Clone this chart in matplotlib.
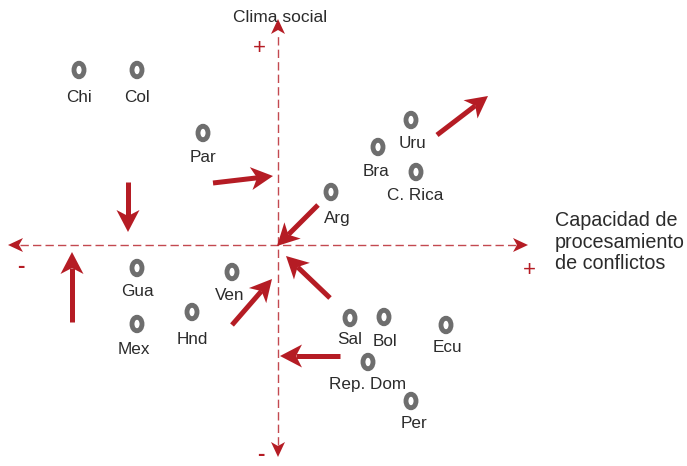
import numpy as np
import matplotlib.pyplot as plt
from matplotlib.patches import Ellipse, Polygon

plt.rcParams['font.family'] = ['Liberation Sans', 'DejaVu Sans']

# country positions (x: capacidad, y: clima social), origin at the axes crossing
countries = ["Chi", "Col", "Par", "Bra", "Uru", "C. Rica", "Arg", "Gua", "Ven",
             "Hnd", "Mex", "Sal", "Bol", "Ecu", "Rep. Dom", "Per"]
cx = [-199, -141, -75, 100, 133, 138, 53, -141, -46, -86, -141, 72, 106, 168, 90, 133]
cy = [175, 175, 112, 98, 125, 73, 53, -23, -27, -67, -79, -73, -72, -80, -117, -156]
# label offsets relative to the marker
lx = [0, 0, 0, -2, 1, -1, 6, 0, -2, 0, -3, 0, 1, 1, 0, 3]
ly = [-28, -28, -24, -24, -24, -24, -26, -24, -24, -28, -26, -22, -24, -23, -22, -23]

# movement arrows (tail -> head)
arrow_x0 = [159, -65, 40, -150, -206, -46, 52, 62]
arrow_y0 = [110, 62, 40, 63, -77, -80, -53, -111]
arrow_x1 = [210, -5, -1, -150, -206, -6, 8, 2]
arrow_y1 = [149, 69, -1, 13, -7, -34, -11, -111]

red = "#b51c24"
grey = "#6e6e6e"
txt = "#2b2b2b"
ox, oy = 278, 245


def stealth(ax, x0, y0, x1, y1, length, half, notch, lw, color):
    d = np.array([x1 - x0, y1 - y0], float)
    n = np.hypot(*d)
    u = d / n
    p = np.array([-u[1], u[0]])
    tip = np.array([x1, y1], float)
    base = tip - u * length
    back = base + u * notch
    if lw > 0:
        ax.plot([x0, back[0]], [y0, back[1]], color=color, lw=lw, solid_capstyle="butt")
    ax.add_patch(Polygon([tip, base + p * half, back, base - p * half],
                         closed=True, facecolor=color, edgecolor="none"))


fig = plt.figure(figsize=(6.87, 4.66), dpi=100)
ax = fig.add_axes([0, 0, 1, 1])
ax.set_xlim(-ox, 687 - ox)
ax.set_ylim(oy - 466, oy)
ax.set_aspect("equal")
ax.axis("off")

# axes lines
ax.plot([-258, 240], [0, 0], color=red, lw=1.0, dashes=(6, 3), alpha=0.8)
ax.plot([0, 0], [-200, 212], color=red, lw=1.0, dashes=(6, 3), alpha=0.8)
stealth(ax, -250, 0, -270, 0, 15, 7, 4, 0, red)
stealth(ax, 230, 0, 250, 0, 15, 7, 4, 0, red)
stealth(ax, 0, 200, 0, 226, 15, 7, 4, 0, red)
stealth(ax, 0, -190, 0, -212, 15, 7, 4, 0, red)

ax.text(-19, 197, "+", color=red, fontsize=16, ha="center", va="center")
ax.text(-17, -210, "-", color=red, fontsize=16, fontweight="bold", ha="center", va="center")
ax.text(-257, -21, "-", color=red, fontsize=16, fontweight="bold", ha="center", va="center")
ax.text(251, -25, "+", color=red, fontsize=16, ha="center", va="center")

ax.text(2, 228, "Clima social", fontsize=12.5, color=txt, ha="center", va="center")
ax.text(277, 3, "Capacidad de\nprocesamiento\nde conflictos", fontsize=14.2, color=txt,
        ha="left", va="center", linespacing=1.15)

for a, b, c, d in zip(arrow_x0, arrow_y0, arrow_x1, arrow_y1):
    stealth(ax, a, b, c, d, 22, 11.5, 6, 3.6, red)

for name, x, y, dx, dy in zip(countries, cx, cy, lx, ly):
    ax.add_patch(Ellipse((x, y), 10, 13.5, facecolor="white", edgecolor=grey, lw=3.5))
    ax.text(x + dx, y + dy, name, fontsize=12.3, color=txt, ha="center", va="center")

fig.savefig("out.png", dpi=100)
